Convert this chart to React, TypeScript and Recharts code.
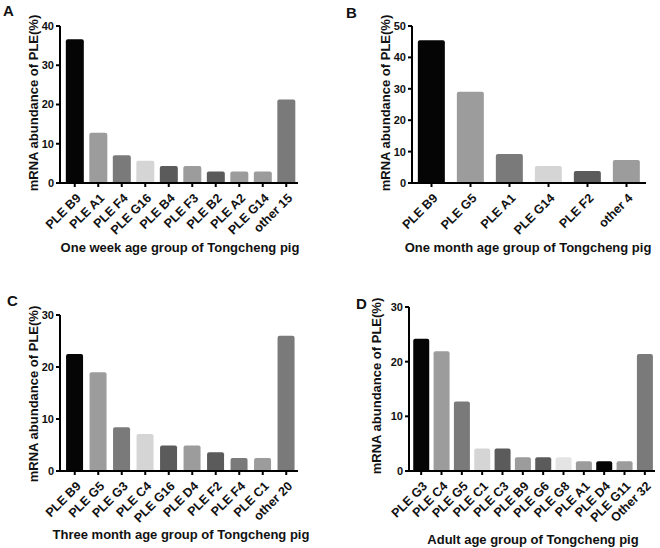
import { Bar, BarChart, Cell, XAxis, YAxis } from 'recharts';

const weekGenes = ['PLE B9', 'PLE A1', 'PLE F4', 'PLE G16', 'PLE B4', 'PLE F3', 'PLE B2', 'PLE A2', 'PLE G14', 'other 15'];
const weekValues = [36.6, 12.8, 7.1, 5.7, 4.3, 4.3, 2.9, 2.9, 2.9, 21.3];

const monthGenes = ['PLE B9', 'PLE G5', 'PLE A1', 'PLE G14', 'PLE F2', 'other 4'];
const monthValues = [45.5, 29.1, 9.2, 5.4, 3.8, 7.3];

const threeMonthGenes = ['PLE B9', 'PLE G5', 'PLE G3', 'PLE C4', 'PLE G16', 'PLE D4', 'PLE F2', 'PLE F4', 'PLE C1', 'other 20'];
const threeMonthValues = [22.5, 19.0, 8.4, 7.1, 4.9, 4.9, 3.6, 2.5, 2.5, 26.0];

const adultGenes = ['PLE G3', 'PLE C4', 'PLE G5', 'PLE C1', 'PLE C3', 'PLE B9', 'PLE G6', 'PLE G8', 'PLE A1', 'PLE D4', 'PLE G11', 'Other 32'];
const adultValues = [24.2, 21.9, 12.7, 4.1, 4.1, 2.5, 2.5, 2.5, 1.8, 1.8, 1.8, 21.4];

const ticks40 = [0, 10, 20, 30, 40];
const ticks50 = [0, 10, 20, 30, 40, 50];
const ticks30 = [0, 10, 20, 30];

// greys used by the original figure
const K = '#050505';
const G1 = '#9c9c9c';
const G2 = '#7a7a7a';
const G3 = '#d5d5d5';
const G4 = '#5b5b5b';
const G5 = '#e4e4e4';

const weekColors = [K, G1, G2, G3, G4, G1, G4, G1, G1, G2];
const monthColors = [K, G1, G2, G3, G4, G1];
const threeMonthColors = [K, G1, G2, G3, G4, G1, G4, G2, G1, G2];
const adultColors = [K, G1, G2, G3, G4, G1, G4, G5, G1, K, G1, G2];

const FONT = '"Liberation Sans", Arial, sans-serif';

function AngledTick({ x, y, payload }: any) {
  const tx = x + 4;
  const ty = y + 7;
  return (
    <text
      x={tx}
      y={ty}
      transform={`rotate(-45 ${tx} ${ty})`}
      textAnchor="end"
      dominantBaseline="central"
      fontSize={12.5}
      fontWeight="bold"
      fontFamily={FONT}
      fill="#111"
    >
      {payload.value}
    </text>
  );
}

type PanelProps = {
  genes: string[];
  values: number[];
  colors: string[];
  ticks: number[];
  left: number;
  top: number;
  margin: { top: number; right: number; bottom: number; left: number };
  padLeft: number;
  gap: string;
};

function Panel({ genes, values, colors, ticks, left, top, margin, padLeft, gap }: PanelProps) {
  const data = genes.map((gene, i) => ({ gene, value: values[i] }));
  return (
    <div style={{ position: 'absolute', left, top }}>
      <BarChart width={330} height={274} data={data} margin={margin} barCategoryGap={gap}>
        <XAxis
          dataKey="gene"
          interval={0}
          height={60}
          tick={<AngledTick />}
          tickSize={4}
          stroke="#000"
          strokeWidth={2}
          padding={{ left: padLeft, right: 0 }}
        />
        <YAxis
          width={60}
          domain={[0, ticks[ticks.length - 1]]}
          ticks={ticks}
          interval={0}
          tickSize={4}
          tickMargin={2}
          stroke="#000"
          strokeWidth={2}
          tick={{ fontSize: 11, fontWeight: 'bold', fontFamily: FONT, fill: '#111' }}
        />
        <Bar dataKey="value" radius={[2, 2, 0, 0]} isAnimationActive={false}>
          {data.map((d, i) => (
            <Cell key={d.gene} fill={colors[i]} />
          ))}
        </Bar>
      </BarChart>
    </div>
  );
}

const yTitle = 'mRNA abundance of PLE(%)';

export default function App() {
  const text = { fontFamily: FONT, fontWeight: 'bold', fill: '#111' } as const;
  return (
    <div style={{ position: 'absolute', left: 0, top: 0, width: 660, height: 548, background: '#fff' }}>
      <Panel
        genes={weekGenes}
        values={weekValues}
        colors={weekColors}
        ticks={ticks40}
        left={0}
        top={0}
        margin={{ top: 26, right: 32, bottom: 31, left: 0 }}
        padLeft={3}
        gap="12%"
      />
      <Panel
        genes={monthGenes}
        values={monthValues}
        colors={monthColors}
        ticks={ticks50}
        left={330}
        top={0}
        margin={{ top: 26, right: 14, bottom: 31, left: 22 }}
        padLeft={0}
        gap="15%"
      />
      <Panel
        genes={threeMonthGenes}
        values={threeMonthValues}
        colors={threeMonthColors}
        ticks={ticks30}
        left={0}
        top={274}
        margin={{ top: 41, right: 32, bottom: 17, left: 0 }}
        padLeft={3}
        gap="13%"
      />
      <Panel
        genes={adultGenes}
        values={adultValues}
        colors={adultColors}
        ticks={ticks30}
        left={330}
        top={274}
        margin={{ top: 33, right: 5, bottom: 17, left: 19 }}
        padLeft={2}
        gap="11%"
      />
      <svg
        width={660}
        height={548}
        style={{ position: 'absolute', left: 0, top: 0, pointerEvents: 'none' }}
      >
        <text x={3} y={16} fontSize={15} {...text}>A</text>
        <text x={346} y={18} fontSize={15} {...text}>B</text>
        <text x={7} y={306} fontSize={15} {...text}>C</text>
        <text x={356} y={309} fontSize={15} {...text}>D</text>

        <text x={33} y={103} fontSize={13} textAnchor="middle" dominantBaseline="central" transform="rotate(-90 33 103)" {...text}>{yTitle}</text>
        <text x={385} y={103} fontSize={13} textAnchor="middle" dominantBaseline="central" transform="rotate(-90 385 103)" {...text}>{yTitle}</text>
        <text x={33} y={394} fontSize={13} textAnchor="middle" dominantBaseline="central" transform="rotate(-90 33 394)" {...text}>{yTitle}</text>
        <text x={376} y={386} fontSize={13} textAnchor="middle" dominantBaseline="central" transform="rotate(-90 376 386)" {...text}>{yTitle}</text>

        <text x={180} y={247} fontSize={13} textAnchor="middle" dominantBaseline="central" {...text}>One week age group of Tongcheng  pig</text>
        <text x={528} y={247} fontSize={13} textAnchor="middle" dominantBaseline="central" {...text}>One month age group of Tongcheng pig</text>
        <text x={181} y={534} fontSize={13} textAnchor="middle" dominantBaseline="central" {...text}>Three month age group of Tongcheng pig</text>
        <text x={533} y={539} fontSize={13} textAnchor="middle" dominantBaseline="central" {...text}>Adult age group of Tongcheng pig</text>
      </svg>
    </div>
  );
}
